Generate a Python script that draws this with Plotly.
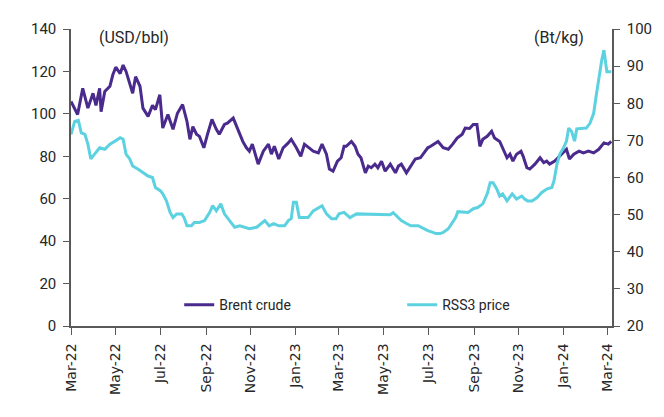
import plotly.graph_objects as go

# Brent crude, USD/bbl (left axis)
brent_dates = [
    "2022-03-01", "2022-03-10", "2022-03-17", "2022-03-24", "2022-03-31", "2022-04-04",
    "2022-04-09", "2022-04-11", "2022-04-16", "2022-04-23", "2022-04-27", "2022-05-01",
    "2022-05-07", "2022-05-11", "2022-05-15", "2022-05-20", "2022-05-24", "2022-05-28",
    "2022-06-03", "2022-06-07", "2022-06-14", "2022-06-20", "2022-06-24", "2022-06-30",
    "2022-07-04", "2022-07-11", "2022-07-18", "2022-07-24", "2022-07-31", "2022-08-06",
    "2022-08-10", "2022-08-14", "2022-08-19", "2022-08-23", "2022-08-29", "2022-09-03",
    "2022-09-09", "2022-09-15", "2022-09-19", "2022-09-26", "2022-09-30", "2022-10-08",
    "2022-10-14", "2022-10-21", "2022-10-26", "2022-10-30", "2022-11-03", "2022-11-06",
    "2022-11-11", "2022-11-18", "2022-11-25", "2022-11-29", "2022-12-03", "2022-12-09",
    "2022-12-15", "2022-12-22", "2022-12-26", "2023-01-02", "2023-01-08", "2023-01-13",
    "2023-01-20", "2023-01-25", "2023-02-01", "2023-02-06", "2023-02-12", "2023-02-16",
    "2023-02-21", "2023-02-27", "2023-03-04", "2023-03-08", "2023-03-11", "2023-03-18",
    "2023-03-23", "2023-03-27", "2023-03-31", "2023-04-06", "2023-04-10", "2023-04-14",
    "2023-04-19", "2023-04-23", "2023-04-28", "2023-05-03", "2023-05-10", "2023-05-17",
    "2023-05-21", "2023-05-25", "2023-06-01", "2023-06-07", "2023-06-13", "2023-06-20",
    "2023-06-24", "2023-06-30", "2023-07-04", "2023-07-11", "2023-07-14", "2023-07-21",
    "2023-07-28", "2023-08-03", "2023-08-09", "2023-08-16", "2023-08-20", "2023-08-26",
    "2023-08-31", "2023-09-05", "2023-09-09", "2023-09-13", "2023-09-19", "2023-09-25",
    "2023-09-29", "2023-10-06", "2023-10-10", "2023-10-16", "2023-10-20", "2023-10-24",
    "2023-10-29", "2023-11-04", "2023-11-07", "2023-11-12", "2023-11-16", "2023-11-23",
    "2023-11-30", "2023-12-05", "2023-12-09", "2023-12-13", "2023-12-20", "2023-12-27",
    "2024-01-01", "2024-01-05", "2024-01-09", "2024-01-15", "2024-01-22", "2024-01-28",
    "2024-02-04", "2024-02-11", "2024-02-18", "2024-02-25", "2024-03-02", "2024-03-06",
]
brent = [
    105.8, 99.7, 112.0, 102.7, 109.7, 104.0,
    112.0, 101.0, 110.5, 113.0, 118.4, 122.0,
    119.0, 123.0, 120.0, 113.7, 109.7, 117.5,
    113.0, 102.7, 98.8, 104.0, 102.0, 109.0,
    93.3, 99.7, 92.7, 100.3, 104.4, 96.4,
    88.0, 94.0, 90.4, 89.4, 84.0, 90.4,
    97.4, 92.7, 90.4, 95.0, 95.6, 98.0,
    92.7, 87.0, 84.0, 82.4, 85.7, 82.4,
    76.3, 82.4, 85.7, 81.0, 84.7, 78.7,
    84.0, 86.3, 88.0, 84.0, 80.0, 85.7,
    84.0, 82.4, 81.6, 85.7, 81.0, 74.0,
    73.0, 77.7, 79.3, 84.7, 84.7, 87.0,
    84.7, 81.0, 79.3, 72.2, 75.4, 74.6,
    76.3, 74.6, 77.7, 73.0, 76.3, 72.2,
    75.4, 76.3, 72.2, 75.4, 78.7, 79.3,
    81.0, 84.0, 84.7, 86.3, 87.0, 84.0,
    83.3, 85.7, 88.6, 90.4, 93.3, 93.1,
    95.0, 95.0, 84.7, 88.0, 89.4, 91.8,
    88.6, 87.0, 84.0, 79.3, 81.0, 77.7,
    81.0, 82.4, 80.0, 74.6, 74.0, 76.3,
    79.3, 77.0, 77.7, 76.3, 77.7, 80.0,
    81.6, 83.3, 78.7, 81.0, 82.4, 81.6,
    82.4, 81.6, 83.3, 86.3, 85.7, 87.0,
]

# RSS3 price, Bt/kg (right axis)
rss_dates = [
    "2022-03-01", "2022-03-06", "2022-03-11", "2022-03-15", "2022-03-20", "2022-03-24",
    "2022-03-28", "2022-04-03", "2022-04-09", "2022-04-16", "2022-04-23", "2022-04-30",
    "2022-05-07", "2022-05-11", "2022-05-15", "2022-05-20", "2022-05-24", "2022-05-31",
    "2022-06-07", "2022-06-14", "2022-06-20", "2022-06-24", "2022-07-01", "2022-07-04",
    "2022-07-09", "2022-07-14", "2022-07-18", "2022-07-23", "2022-07-30", "2022-08-02",
    "2022-08-06", "2022-08-12", "2022-08-16", "2022-08-23", "2022-08-30", "2022-09-06",
    "2022-09-10", "2022-09-15", "2022-09-21", "2022-09-26", "2022-10-03", "2022-10-10",
    "2022-10-17", "2022-10-23", "2022-10-30", "2022-11-09", "2022-11-16", "2022-11-20",
    "2022-11-26", "2022-12-02", "2022-12-09", "2022-12-17", "2022-12-22", "2022-12-26",
    "2022-12-29", "2023-01-02", "2023-01-06", "2023-01-13", "2023-01-18", "2023-01-25",
    "2023-02-01", "2023-02-06", "2023-02-12", "2023-02-19", "2023-02-25", "2023-03-01",
    "2023-03-08", "2023-03-16", "2023-03-25", "2023-04-03", "2023-04-13", "2023-04-21",
    "2023-04-30", "2023-05-10", "2023-05-14", "2023-05-18", "2023-05-25", "2023-06-01",
    "2023-06-07", "2023-06-17", "2023-06-24", "2023-06-30", "2023-07-07", "2023-07-11",
    "2023-07-17", "2023-07-21", "2023-07-28", "2023-08-02", "2023-08-07", "2023-08-10",
    "2023-08-17", "2023-08-24", "2023-08-31", "2023-09-06", "2023-09-13", "2023-09-19",
    "2023-09-23", "2023-09-27", "2023-10-02", "2023-10-06", "2023-10-10", "2023-10-16",
    "2023-10-23", "2023-10-29", "2023-11-05", "2023-11-09", "2023-11-13", "2023-11-19",
    "2023-11-26", "2023-12-02", "2023-12-09", "2023-12-16", "2023-12-19", "2023-12-23",
    "2023-12-27", "2024-01-01", "2024-01-05", "2024-01-08", "2024-01-12", "2024-01-16",
    "2024-01-19", "2024-01-26", "2024-02-01", "2024-02-06", "2024-02-11", "2024-02-15",
    "2024-02-19", "2024-02-22", "2024-02-25", "2024-02-29", "2024-03-06",
]
rss3 = [
    71.6, 75.1, 75.4, 72.0, 71.6, 69.0,
    65.0, 66.6, 68.0, 67.6, 69.0, 69.8,
    70.7, 70.3, 66.3, 65.0, 63.1, 62.3,
    61.3, 60.4, 60.0, 57.3, 56.4, 55.6,
    53.7, 50.6, 49.2, 50.2, 50.2, 49.2,
    47.0, 47.0, 47.9, 47.9, 48.4, 50.6,
    52.4, 51.0, 52.9, 50.2, 48.4, 46.6,
    47.0, 46.6, 46.2, 46.6, 47.9, 48.4,
    47.0, 47.6, 47.0, 47.0, 48.4, 48.9,
    53.3, 53.3, 49.2, 49.2, 49.2, 51.0,
    51.9, 52.4, 50.2, 48.9, 48.9, 50.2,
    50.6, 49.2, 50.2, 50.2, 50.2, 50.2,
    50.0, 50.0, 50.5, 49.7, 48.4, 47.6,
    47.0, 47.0, 46.2, 45.7, 45.2, 44.9,
    44.9, 45.2, 46.2, 47.6, 49.2, 50.8,
    50.6, 50.6, 51.6, 51.9, 52.9, 55.6,
    58.6, 58.6, 56.9, 55.0, 55.6, 53.7,
    55.6, 54.2, 55.0, 54.2, 53.7, 53.7,
    54.6, 55.9, 56.9, 57.3, 59.1, 63.6,
    66.3, 68.0, 69.8, 73.3, 72.4, 69.8,
    73.1, 73.3, 73.3, 74.6, 77.3, 82.7,
    88.5, 91.6, 94.3, 88.5, 88.5,
]

axis_col = "#595959"
txt_col = "#262626"
num_font = dict(family="Roboto", size=15, color=txt_col)

fig = go.Figure()
fig.add_trace(go.Scatter(x=brent_dates, y=brent, name="Brent crude", mode="lines",
                         line=dict(color="#4A2A8C", width=3)))
fig.add_trace(go.Scatter(x=rss_dates, y=rss3, name="RSS3 price", mode="lines",
                         line=dict(color="#5CD2E0", width=3), yaxis="y2"))

# page body has an 8px margin, so the figure is a bit smaller than the window
fig.update_layout(
    width=656, height=409,
    margin=dict(l=63, r=51, t=19, b=91),
    paper_bgcolor="white", plot_bgcolor="white",
    showlegend=True,
    legend=dict(orientation="h", x=0.2, y=0.07, xanchor="left", yanchor="middle",
                bgcolor="rgba(0,0,0,0)", font=dict(family="Roboto", size=14, color=txt_col),
                entrywidth=178, entrywidthmode="pixels"),
    xaxis=dict(type="date", range=["2022-03-01", "2024-03-07"],
               tick0="2022-03-01", dtick="M2", tickformat="%b-%y", tickangle=-90,
               showgrid=False, showline=True, linecolor=axis_col, linewidth=1.5,
               ticks="outside", ticklen=7, tickcolor=axis_col, ticklabelstandoff=3,
               tickfont=dict(family="DejaVu Sans", size=14, color=txt_col)),
    yaxis=dict(range=[0, 140], dtick=20, showgrid=False, zeroline=False,
               showline=True, linecolor=axis_col, linewidth=1.5,
               ticks="outside", ticklen=6, tickcolor=axis_col, tickfont=num_font,
               ticklabelstandoff=4),
    yaxis2=dict(range=[20, 100], dtick=10, overlaying="y", side="right",
                showgrid=False, zeroline=False, showline=True, linecolor=axis_col,
                linewidth=1.5, ticks="outside", ticklen=6, tickcolor=axis_col,
                tickfont=num_font, ticklabelstandoff=4),
    annotations=[
        dict(text="(USD/bbl)", x=0.048, y=0.973, xref="paper", yref="paper",
             xanchor="left", yanchor="middle", showarrow=False,
             font=dict(family="Roboto", size=16, color=txt_col)),
        dict(text="(Bt/kg)", x=0.952, y=0.97, xref="paper", yref="paper",
             xanchor="right", yanchor="middle", showarrow=False,
             font=dict(family="Roboto", size=16, color=txt_col)),
    ],
)

fig.write_html("out.html")
